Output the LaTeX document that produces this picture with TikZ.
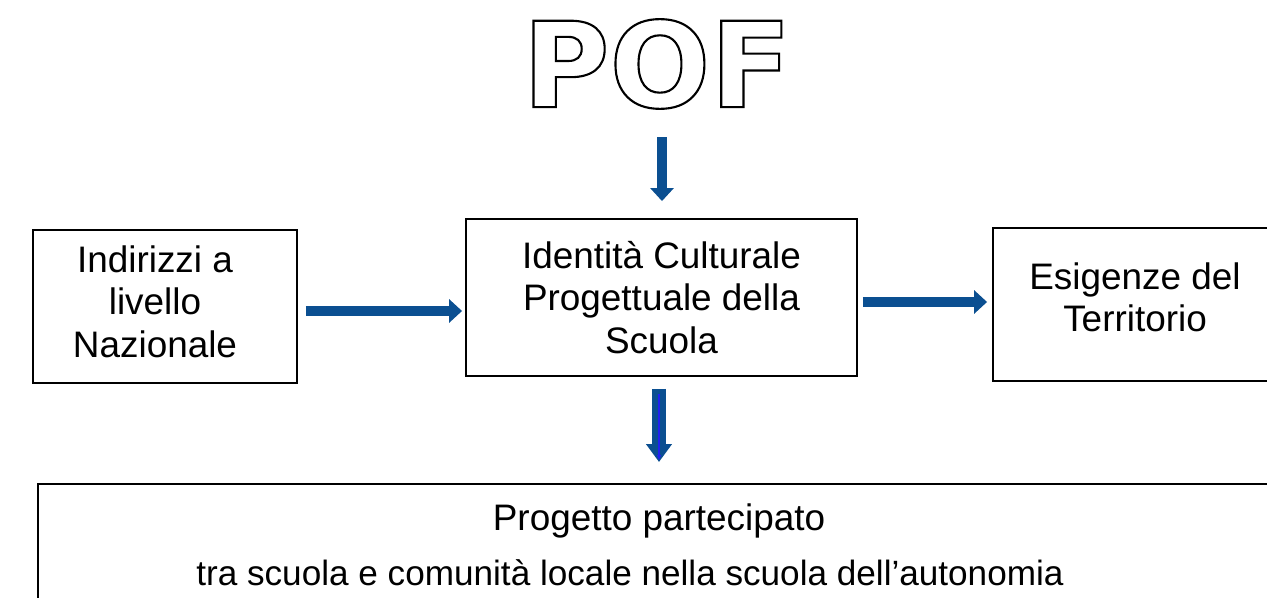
\documentclass[tikz,border=0pt]{standalone}
\usepackage{fontspec}
\setmainfont{Liberation Sans}
\newfontfamily\titolofont{DejaVu Sans}
\usetikzlibrary{arrows.meta, positioning, calc}
\definecolor{bluf}{HTML}{0B4F91}
\definecolor{bluvivo}{HTML}{2020F0}
\newcommand{\contorno}[1]{\special{pdf:literal direct 1 Tr 1.2 w}#1\special{pdf:literal direct 0 Tr}}
\tikzset{
  casella/.style={rectangle, draw=black, line width=1.1pt, align=center,
                  font=\fontsize{21}{24}\selectfont, inner sep=0pt},
  freccia/.style={draw=bluf, line width=0.2cm, -{Triangle[length=0.26cm, width=0.46cm]}},
  frecciag/.style={draw=bluf, line width=0.28cm, -{Triangle[length=0.36cm, width=0.5cm]}}
}
\begin{document}
\begin{tikzpicture}[x=0.02cm, y=-0.02cm]
  \useasboundingbox (0,0) rectangle (1267,598);
  \clip (0,0) rectangle (1267,598);
  \node (pof) at (657,64) {\titolofont\bfseries\fontsize{67.5}{70}\selectfont\contorno{POF}};
  \node (identita) [casella, minimum width=7.82cm, minimum height=3.14cm] at (661.5,297.5)
    {Identità Culturale\\Progettuale della\\Scuola};
  \node (indirizzi) [casella, minimum width=5.28cm, minimum height=3.06cm] at (165,306.5)
    {\begin{tabular}{@{}c@{}}Indirizzi a\\livello\\Nazionale\end{tabular}\hspace*{0.4cm}};
  \node (esigenze) [casella, minimum width=5.68cm, minimum height=3.06cm, text depth=0.3cm] at (1135,304.5)
    {Esigenze del\\Territorio};
  \node (progetto) [casella, minimum width=25.8cm, minimum height=4.4cm, anchor=north west] at (37,483) {};
  \node (progtesto) [font=\fontsize{20}{31}\selectfont, align=center] at (630,545)
    {\hspace*{1.16cm}{\fontsize{21}{31}\selectfont Progetto partecipato}\\tra scuola e comunità locale nella scuola dell’autonomia};
  % frecce
  \coordinate (sottoPof) at (662,137);
  \coordinate (daIndirizzi) at ([xshift=0.16cm, yshift=-0.09cm]indirizzi.east);
  \coordinate (daIdentita) at ([xshift=0.1cm, yshift=-0.09cm]identita.east);
  \coordinate (sottoIdentita) at ([xshift=-0.05cm, yshift=-0.24cm]identita.south);
  \draw [freccia] (sottoPof) -- (sottoPof |- identita.north) [shorten >=0.34cm];
  \draw [freccia, shorten >=0.06cm] (daIndirizzi) -- (daIndirizzi -| identita.west);
  \draw [freccia, shorten >=0.1cm] (daIdentita) -- (daIdentita -| esigenze.west);
  \draw [frecciag, shorten >=0.42cm] (sottoIdentita) -- (sottoIdentita |- progetto.north);
  \draw [bluvivo, line width=0.6pt, shorten <=0.1cm, shorten >=0.46cm,
         -{Triangle[length=0.1cm, width=0.08cm]}] (sottoIdentita) -- (sottoIdentita |- progetto.north);
\end{tikzpicture}
\end{document}
